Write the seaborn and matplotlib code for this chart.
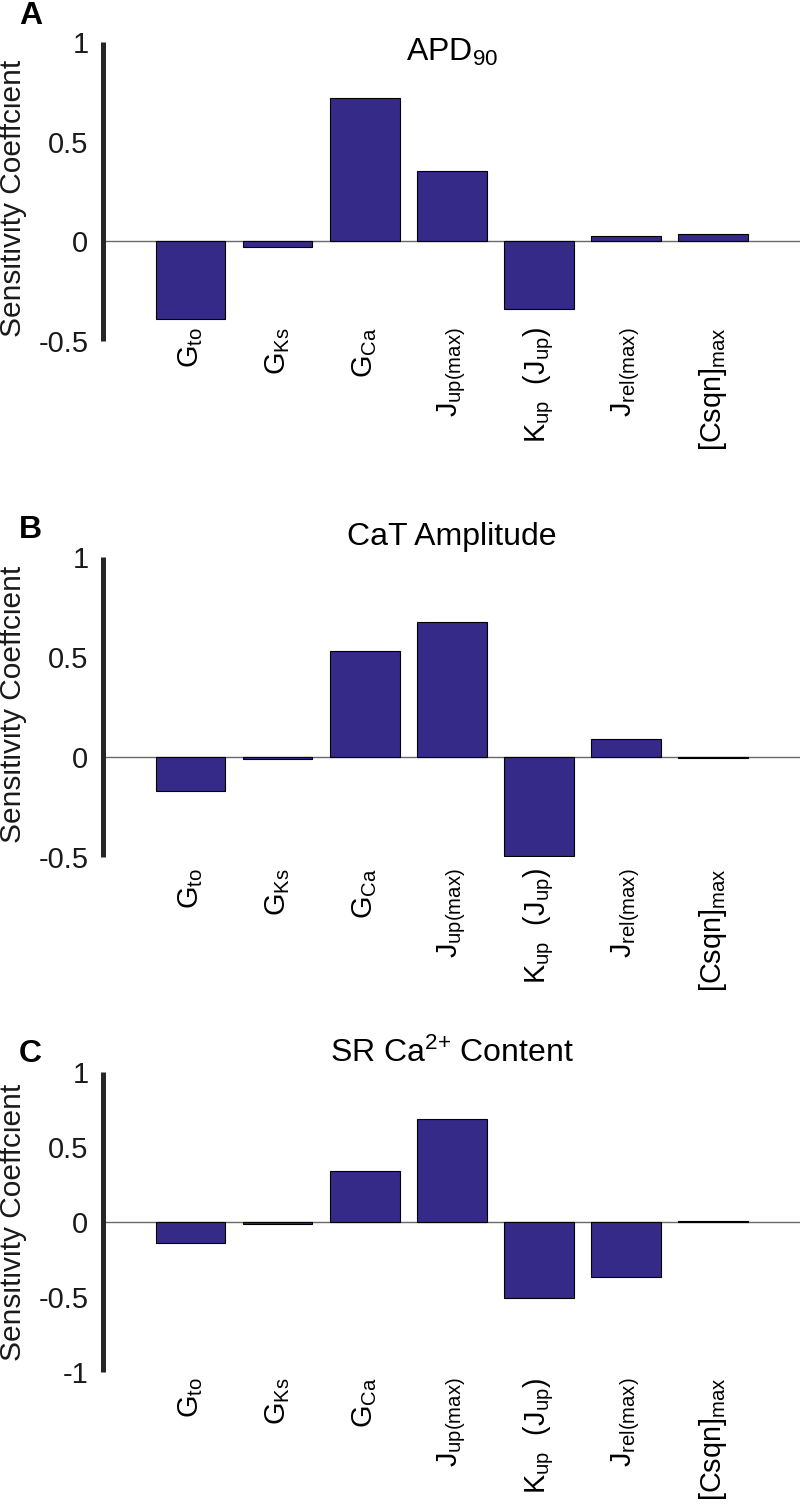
import numpy as np
import pandas as pd
import matplotlib
matplotlib.use("Agg")
import matplotlib.pyplot as plt
import seaborn as sns

# ---- data ----
params = [r"$\mathrm{G_{to}}$", r"$\mathrm{G_{Ks}}$", r"$\mathrm{G_{Ca}}$",
          r"$\mathrm{J_{up(max)}}$", r"$\mathrm{K_{up}\ \ (J_{up})}$",
          r"$\mathrm{J_{rel(max)}}$", r"$\mathrm{[Csqn]_{max}}$"]
apd90 = [-0.39, -0.03, 0.72, 0.355, -0.34, 0.025, 0.035]
cat_amp = [-0.17, -0.012, 0.53, 0.675, -0.495, 0.09, -0.005]
sr_ca = [-0.14, -0.015, 0.34, 0.69, -0.507, -0.365, 0.01]
titles = [r"APD$_{90}$", "CaT Amplitude", r"SR Ca$^{2{+}}$ Content"]
panel_letters = ["A", "B", "C"]
ylims = [(-0.5, 1), (-0.5, 1), (-1, 1)]
yticks = [[-0.5, 0, 0.5, 1], [-0.5, 0, 0.5, 1], [-1, -0.5, 0, 0.5, 1]]
ytick_labels = [["-0.5", "0", "0.5", "1"], ["-0.5", "0", "0.5", "1"],
                ["-1", "-0.5", "0", "0.5", "1"]]
series = [apd90, cat_amp, sr_ca]

sns.set_style("white")
plt.rcParams["font.family"] = ["Liberation Sans", "DejaVu Sans"]
plt.rcParams["mathtext.fontset"] = "custom"
plt.rcParams["mathtext.rm"] = "Liberation Sans"
plt.rcParams["mathtext.it"] = "Liberation Sans:italic"
plt.rcParams["mathtext.bf"] = "Liberation Sans:bold"
plt.rcParams["axes.unicode_minus"] = False

W, H = 800, 1505
fig = plt.figure(figsize=(W / 100, H / 100), dpi=100)

# layout in pixels (top, bottom) of each axes
ax_px = [(42, 341), (557, 857), (1072, 1372)]
left_px, right_px = 103.5, 800
title_y = [0.936, 1.04, 1.033]
xlab_pad = [-10.0, 8.0, 4.0]
ylab_y = [0.478, 0.51, 0.5]
letter_base = [24, 538, 1062]

bar_color = "#352A87"
spine_color = "#262626"

for i in range(3):
    top, bot = ax_px[i]
    ax = fig.add_axes([left_px / W, 1 - bot / H, (right_px - left_px) / W, (bot - top) / H])
    df = pd.DataFrame({"param": params, "value": series[i]})
    ax.axhline(0, color="#6a6a6a", lw=1.0, zorder=0.5)
    sns.barplot(data=df, x="param", y="value", order=params, color=bar_color,
                saturation=1, width=0.8, edgecolor="black", linewidth=0.8, ax=ax,
                zorder=2)
    ax.set_xlim(-1, 7)
    ax.set_ylim(*ylims[i])
    ax.set_yticks(yticks[i])
    ax.set_yticklabels(ytick_labels[i])
    ax.set_xlabel("")
    ax.set_ylabel("Sensitivity Coeffcient", fontsize=21.5, color="#1a1a1a")
    ax.yaxis.set_label_coords(-0.1098, ylab_y[i])
    for s in ["top", "right", "bottom"]:
        ax.spines[s].set_visible(False)
    ax.spines["left"].set_linewidth(3.6)
    ax.spines["left"].set_color(spine_color)
    ax.spines["left"].set_capstyle("butt")
    ax.tick_params(axis="y", direction="out", length=4.8, width=3.6,
                   color=spine_color, labelsize=21, labelcolor="#1a1a1a", pad=6)
    ax.tick_params(axis="x", length=0, labelsize=20.8, rotation=90, pad=xlab_pad[i],
                   labelcolor="black")
    for lab in ax.get_xticklabels():
        lab.set_va("top")
        lab.set_ha("center")
    ax.text(0.5, title_y[i], titles[i], transform=ax.transAxes, ha="center",
            va="baseline", fontsize=23, color="black")
    fig.text(19 / W, 1 - letter_base[i] / H, panel_letters[i], fontsize=23,
             fontweight="bold", ha="left", va="baseline", color="black")
    ax.set_facecolor("white")

fig.savefig("out.png", dpi=100, facecolor="white")
